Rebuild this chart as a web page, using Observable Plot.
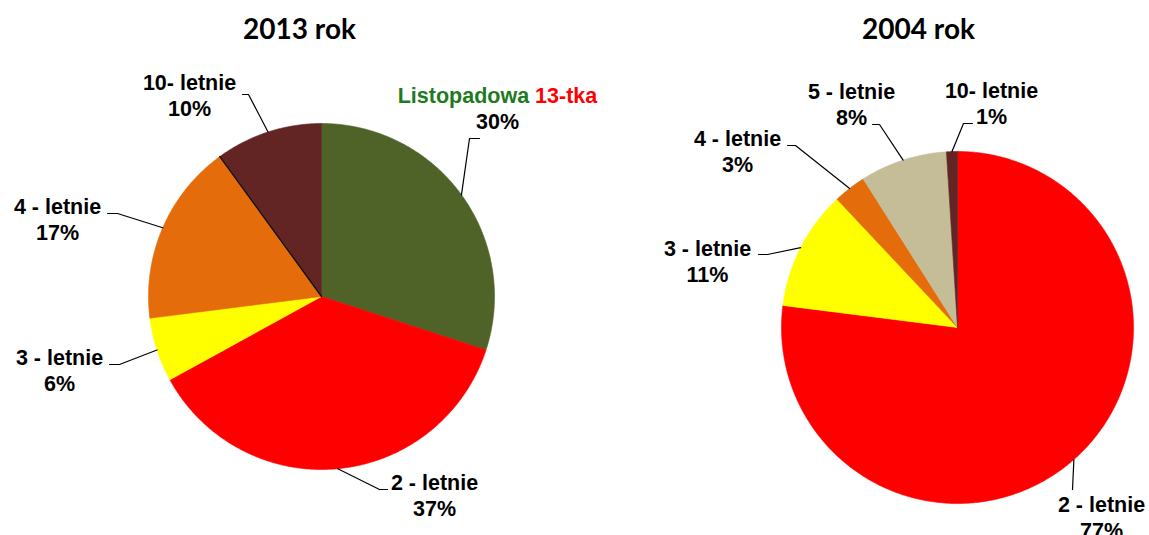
<!DOCTYPE html>
<html>
<head>
<meta charset="utf-8">
<script src="https://cdn.jsdelivr.net/npm/d3@7"></script>
<script src="https://cdn.jsdelivr.net/npm/@observablehq/plot@0.6"></script>
<style>
  html, body { margin: 0; padding: 0; background: #fff; }
  #wrap { display: flex; width: 1149px; height: 535px; overflow: hidden; }
  svg { overflow: visible; }
</style>
</head>
<body>
<div id="wrap"></div>
<script>
// ---- data ----
const titles2013 = "2013 rok";
const titles2004 = "2004 rok";
const categories2013 = ["Listopadowa 13-tka", "2 - letnie", "3 - letnie", "4 - letnie", "10- letnie"];
const values2013 = [30, 37, 6, 17, 10];
const categories2004 = ["2 - letnie", "3 - letnie", "4 - letnie", "5 - letnie", "10- letnie"];
const values2004 = [77, 11, 3, 8, 1];

// ---- styles ----
const colorOf = {
  "Listopadowa 13-tka": "#4F6228",
  "2 - letnie": "#FF0000",
  "3 - letnie": "#FFFF00",
  "4 - letnie": "#E46C0A",
  "5 - letnie": "#C4BD97",
  "10- letnie": "#632523"
};

// ---- layout (pixels relative to pie centre: label position, leader attach point, elbow) ----
const layout2013 = {
  "Listopadowa 13-tka": {lx: 176, ly: -168, ax: 158, ay: -158, ex: 148, ey: -158},
  "2 - letnie":         {lx: 113, ly: 219,  ax: 66,  ay: 193,  ex: 58,  ey: 193},
  "3 - letnie":         {lx: -262, ly: 94,  ax: -212, ay: 68,  ex: -202, ey: 68},
  "4 - letnie":         {lx: -264, ly: -57, ax: -214, ay: -83, ex: -204, ey: -83},
  "10- letnie":         {lx: -132, ly: -181, ax: -79, ay: -202, ex: -73, ey: -202}
};
const layout2004 = {
  "2 - letnie": {lx: 144, ly: 210,  ax: 115,  ay: 162,  ex: 115,  ey: 162},
  "3 - letnie": {lx: -250, ly: -46, ax: -199, ay: -73,  ex: -190, ey: -73},
  "4 - letnie": {lx: -220, ly: -156, ax: -170, ay: -182, ex: -162, ey: -182},
  "5 - letnie": {lx: -106, ly: -203, ax: -85, ay: -203, ex: -78,  ey: -203},
  "10- letnie": {lx: 34,   ly: -204, ax: 15,  ay: -204, ex: 6,    ey: -204}
};

function pieChart({title, categories, values, layout, width, height, cx, cy, r, titleDx, edgeSlices}) {
  const rows = categories.map((c, i) => ({name: c, value: values[i]}));
  const arcs = d3.pie().sort(null).value(d => d.value)(rows);
  // slice outlines in unit-radius coordinates (angle 0 at 12 o'clock, clockwise)
  const pts = [];
  for (const a of arcs) {
    const n = Math.max(2, Math.ceil((a.endAngle - a.startAngle) / 0.01));
    pts.push({name: a.data.name, x: 0, y: 0});
    for (let k = 0; k <= n; k++) {
      const t = a.startAngle + (a.endAngle - a.startAngle) * k / n;
      pts.push({name: a.data.name, x: Math.sin(t), y: Math.cos(t)});
    }
    pts.push({name: a.data.name, x: 0, y: 0});
  }
  // dark radial edge at the start of selected slices
  const edges = [];
  for (const a of arcs) {
    if (!edgeSlices.includes(a.data.name)) continue;
    edges.push({name: a.data.name, x: 0, y: 0});
    edges.push({name: a.data.name, x: Math.sin(a.startAngle), y: Math.cos(a.startAngle)});
  }
  // leader lines: from slice mid-angle on the rim to elbow to label attach
  const leaders = [];
  const labels = [];
  for (const a of arcs) {
    const L = layout[a.data.name];
    const m = (a.startAngle + a.endAngle) / 2;
    leaders.push({name: a.data.name, x: Math.sin(m), y: Math.cos(m)});
    leaders.push({name: a.data.name, x: L.ex / r, y: -L.ey / r});
    leaders.push({name: a.data.name, x: L.ax / r, y: -L.ay / r});
    labels.push({name: a.data.name, x: L.lx / r, y: -L.ly / r,
                 text: a.data.name + "\n" + Math.round(a.data.value) + "%"});
  }
  const font = {fontFamily: "'Liberation Sans', Arial, sans-serif", fontSize: 21.5, fontWeight: "bold"};
  return Plot.plot({
    width, height, margin: 0,
    x: {domain: [-cx / r, (width - cx) / r], axis: null},
    y: {domain: [-(height - cy) / r, cy / r], axis: null},
    color: {type: "identity"},
    marks: [
      Plot.line(pts, {x: "x", y: "y", z: "name", fill: d => colorOf[d.name],
                      stroke: d => colorOf[d.name], strokeWidth: 0.6, curve: "linear"}),
      Plot.line(edges, {x: "x", y: "y", z: "name", stroke: "#111", strokeWidth: 1.3, curve: "linear"}),
      Plot.line(leaders, {x: "x", y: "y", z: "name", stroke: "#000", strokeWidth: 1.2, curve: "linear"}),
      Plot.text(labels, {x: "x", y: "y", text: "text", textAnchor: "middle", lineAnchor: "bottom",
                         lineHeight: 26 / 21.5, fill: "#000", ...font,
                         render: (index, scales, values, dims, context, next) => {
                           const g = next(index, scales, values, dims, context);
                           for (const ts of g.querySelectorAll("tspan")) {
                             if (ts.textContent === "Listopadowa 13-tka") {
                               ts.textContent = "";
                               const ns = "http://www.w3.org/2000/svg";
                               const a1 = document.createElementNS(ns, "tspan");
                               a1.textContent = "Listopadowa ";
                               a1.setAttribute("fill", "#1F7A1F");
                               const a2 = document.createElementNS(ns, "tspan");
                               a2.textContent = "13-tka";
                               a2.setAttribute("fill", "#FF0000");
                               ts.appendChild(a1);
                               ts.appendChild(a2);
                             }
                           }
                           return g;
                         }}),
      Plot.text([title], {frameAnchor: "top", dx: titleDx, dy: 38, lineAnchor: "bottom",
                          fontFamily: "Lato, 'Open Sans', sans-serif", fontSize: 28, fontWeight: "bold",
                          fill: "#000", textAnchor: "middle"})
    ]
  });
}

const wrap = document.getElementById("wrap");
wrap.appendChild(pieChart({title: titles2013, categories: categories2013, values: values2013,
  layout: layout2013, width: 640, height: 535, cx: 321, cy: 296, r: 173, titleDx: -21,
  edgeSlices: ["10- letnie"]}));
wrap.appendChild(pieChart({title: titles2004, categories: categories2004, values: values2004,
  layout: layout2004, width: 509, height: 535, cx: 317, cy: 327, r: 176, titleDx: 23.5,
  edgeSlices: []}));
</script>
</body>
</html>
